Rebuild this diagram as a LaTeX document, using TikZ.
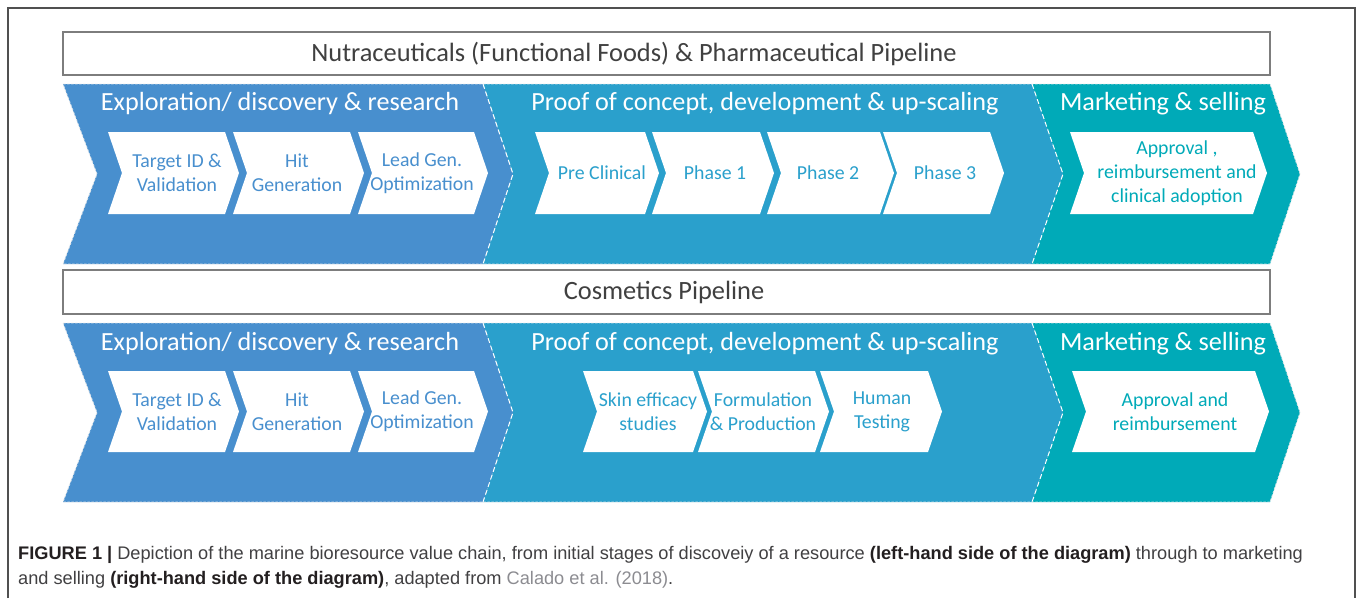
\documentclass[tikz,border=0pt]{standalone}
\usepackage{fontspec}
\setmainfont{Carlito}
\newfontfamily\capfont{Liberation Sans}
\definecolor{secA}{RGB}{72,143,206}
\definecolor{secB}{RGB}{42,160,204}
\definecolor{secC}{RGB}{0,170,184}
\definecolor{boxgray}{RGB}{125,125,125}
\definecolor{titletext}{RGB}{64,64,64}
\definecolor{capdark}{RGB}{35,31,32}
\definecolor{captext}{RGB}{65,64,66}
\definecolor{caplink}{RGB}{140,140,145}
\definecolor{framegray}{RGB}{80,80,80}

% white arrow-shaped stage: name, left x, right x, top y, bottom y, text colour, text, text x
\newcommand\stagechev[8]{%
  \fill[white] (#2,#4) -- (#3,#4) -- ({#3+14},{(#4+#5)/2}) -- (#3,#5) -- (#2,#5)
    -- ({#2+14},{(#4+#5)/2}) -- cycle;
  \node[chevtext,text=#6] (#1) at (#8,{(#4+#5)/2}) {#7};
}

% the three coloured sections of one pipeline band: top y, bottom y
\newcommand\pipeband[2]{%
  \fill[secA] (63,#1) -- (483,#1) -- (513,{(#1+#2)/2}) -- (483,#2) -- (63,#2) -- (97,{(#1+#2)/2}) -- cycle;
  \fill[secB] (483,#1) -- (1032,#1) -- (1063,{(#1+#2)/2}) -- (1032,#2) -- (483,#2) -- (513,{(#1+#2)/2}) -- cycle;
  \fill[secC] (1032,#1) -- (1270,#1) -- (1300,{(#1+#2)/2}) -- (1270,#2) -- (1032,#2) -- (1063,{(#1+#2)/2}) -- cycle;
  \draw[edge] (63,#1) -- (1270,#1) -- (1300,{(#1+#2)/2}) -- (1270,#2) -- (63,#2) -- (97,{(#1+#2)/2}) -- cycle;
  \draw[seam] (483,#1) -- (513,{(#1+#2)/2}) -- (483,#2);
  \draw[seam] (1032,#1) -- (1063,{(#1+#2)/2}) -- (1032,#2);
}

\begin{document}
\begin{tikzpicture}[x=1pt,y=-1pt,
  head/.style={text=white,font=\fontsize{26.2}{30}\selectfont,inner sep=0pt},
  chevtext/.style={font=\fontsize{19.8}{24}\selectfont,align=center,inner sep=0pt},
  titlebox/.style={draw=boxgray,line width=1.6pt,fill=white},
  titlelabel/.style={text=titletext,font=\fontsize{26.4}{30}\selectfont,inner sep=0pt},
  edge/.style={white!85!gray,line width=0.9pt,dash pattern=on 2.5pt off 1.5pt,opacity=0.8},
  seam/.style={white,line width=1pt,dash pattern=on 5pt off 3pt},
  caption/.style={anchor=base west,inner sep=0pt,text=captext,font=\capfont\fontsize{18.2}{22}\selectfont}]

\useasboundingbox (0,0) rectangle (1358,598);
\fill[white] (0,0) rectangle (1358,598);

% outer frame
\draw[framegray,line width=1.2pt] (8,598) -- (8,8) -- (1355,8) -- (1355,598);

% ---------- pharmaceutical pipeline ----------
\draw[titlebox] (63,32) rectangle (1270,75);
\node[titlelabel] (pharmatitle) at (634,53.5) {Nutraceuticals (Functional Foods) \& Pharmaceutical Pipeline};

\pipeband{84}{264}
\node[head] (pexp) at (280,104) {Exploration/ discovery \& research};
\node[head] (pproof) at (765,104) {Proof of concept, development \& up-scaling};
\node[head] (pmark) at (1163,104) {Marketing \& selling};

\stagechev{ptarget}{108}{225}{132}{214}{secA}{Target ID \&\\Validation}{177}
\stagechev{phit}{233}{350}{132}{214}{secA}{Hit\\Generation}{297}
\stagechev{plead}{358}{474}{132}{214}{secA}{Lead Gen.\\Optimization}{422}
\stagechev{ppre}{535}{645}{132}{214}{secB}{Pre Clinical}{602}
\stagechev{pph1}{652}{760}{132}{214}{secB}{Phase 1}{715}
\stagechev{pph2}{767}{880}{132}{214}{secB}{Phase 2}{828}
\stagechev{pph3}{883}{990}{132}{214}{secB}{Phase 3}{945}
\stagechev{pappr}{1070}{1253}{132}{214}{secC}{Approval ,\\reimbursement and\\clinical adoption}{1177}

% ---------- cosmetics pipeline ----------
\draw[titlebox] (63,270) rectangle (1270,314);
\node[titlelabel] (cosmtitle) at (664,292) {Cosmetics Pipeline};

\pipeband{323}{502}
\node[head] (cexp) at (280,344) {Exploration/ discovery \& research};
\node[head] (cproof) at (765,344) {Proof of concept, development \& up-scaling};
\node[head] (cmark) at (1163,344) {Marketing \& selling};

\stagechev{ctarget}{108}{225}{371}{452}{secA}{Target ID \&\\Validation}{177}
\stagechev{chit}{233}{350}{371}{452}{secA}{Hit\\Generation}{297}
\stagechev{clead}{358}{474}{371}{452}{secA}{Lead Gen.\\Optimization}{422}
\stagechev{cskin}{583}{693}{371}{452}{secB}{Skin efficacy\\studies}{648}
\stagechev{cform}{698}{815}{371}{452}{secB}{Formulation\\\& Production}{763}
\stagechev{chuman}{820}{928}{371}{452}{secB}{Human\\Testing}{882}
\stagechev{cappr}{1072}{1255}{371}{452}{secC}{Approval and\\reimbursement}{1175}

% ---------- caption ----------
\node[caption] (cap1) at (18,559) {\textcolor{capdark}{\textbf{FIGURE 1 |}} Depiction of the marine bioresource value chain, from initial stages of discoveiy of a resource \textcolor{capdark}{\textbf{(left-hand side of the diagram)}} through to marketing};
\node[caption] (cap2) at (18,584) {and selling \textcolor{capdark}{\textbf{(right-hand side of the diagram)}}, adapted from \textcolor{caplink}{Calado et al. (2018)}.};

\end{tikzpicture}
\end{document}
